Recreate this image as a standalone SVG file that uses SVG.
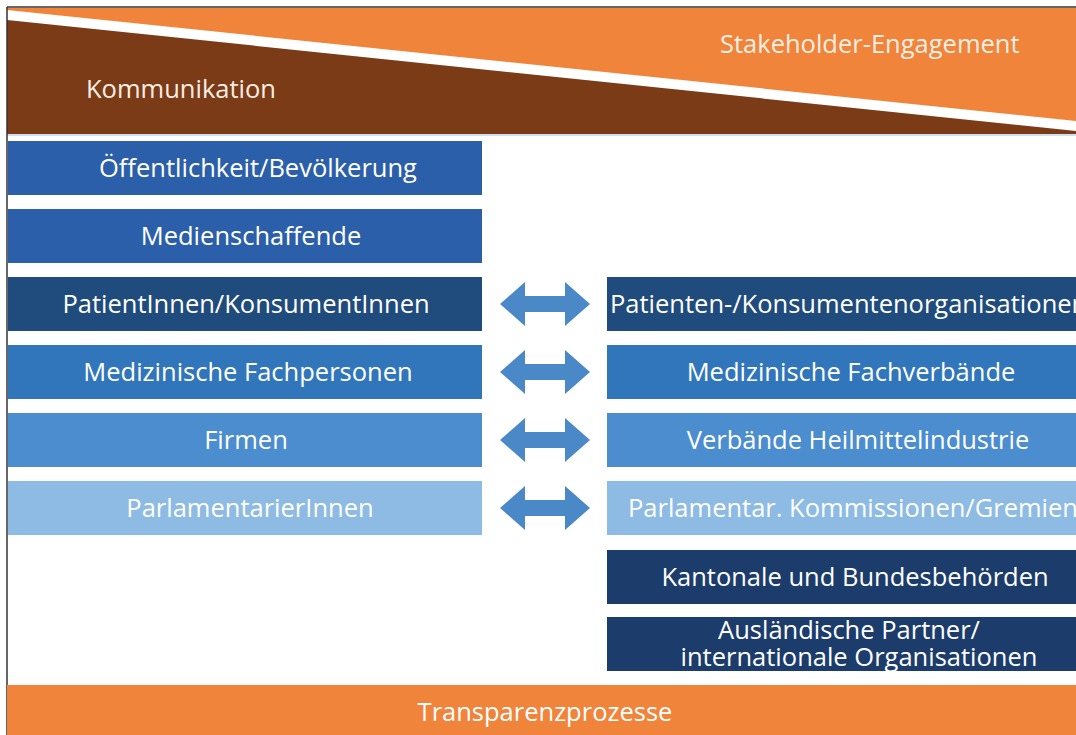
<svg xmlns="http://www.w3.org/2000/svg" width="1076" height="735" viewBox="0 0 1076 735">
<defs>
<style>
.t{font-family:"Open Sans","Noto Sans","Liberation Sans",sans-serif;font-size:25.5px;fill:#ffffff;text-anchor:middle;}
.h{font-family:"Open Sans","Noto Sans","Liberation Sans",sans-serif;font-size:25.5px;fill:#fbeee4;}
.c1{fill:#2c5fa9;}
.c2{fill:#1f4b7d;}
.c3{fill:#3176bb;}
.c4{fill:#4b8dcf;}
.c5{fill:#8dbbe3;}
.c6{fill:#1c3c6c;}
.arr{fill:#4a88c8;}
</style>
</defs>
<rect x="0" y="0" width="1076" height="735" fill="#ffffff"/>
<g id="header">
<rect x="7" y="8" width="1069" height="126" fill="#f0843a"/>
<polygon points="7,10 1076,121 1076,134 7,134" fill="#ffffff"/>
<polygon points="7,20 1076,131 1076,134 7,134" fill="#7b3b16"/>
<line x1="7" y1="135" x2="1076" y2="135" stroke="#cfe0f0" stroke-width="2"/>
<text class="h" x="86" y="98">Kommunikation</text>
<text class="h" x="720" y="53">Stakeholder-Engagement</text>
</g>
<line x1="7" y1="7" x2="1076" y2="7" stroke="#333333" stroke-width="1.5"/>
<line x1="7" y1="7" x2="7" y2="735" stroke="#333333" stroke-width="1.5"/>
<g id="oeffentlichkeit"><rect class="c1" x="8" y="141" width="474" height="54"/><text class="t" x="258" y="177">Öffentlichkeit/Bevölkerung</text></g>
<g id="medienschaffende"><rect class="c1" x="8" y="209" width="474" height="54"/><text class="t" x="251" y="245">Medienschaffende</text></g>
<g id="patientinnen"><rect class="c2" x="8" y="277" width="474" height="54"/><text class="t" x="246" y="313">PatientInnen/KonsumentInnen</text></g>
<g id="fachpersonen"><rect class="c3" x="8" y="345" width="474" height="54"/><text class="t" x="248" y="381">Medizinische Fachpersonen</text></g>
<g id="firmen"><rect class="c4" x="8" y="413" width="474" height="54"/><text class="t" x="246" y="449">Firmen</text></g>
<g id="parlamentarier"><rect class="c5" x="8" y="481" width="474" height="54"/><text class="t" x="250" y="517">ParlamentarierInnen</text></g>
<g id="konsumentenorg"><rect class="c2" x="607" y="277" width="469" height="54"/><text class="t" x="610" y="313" style="text-anchor:start">Patienten-/Konsumentenorganisationen</text></g>
<g id="fachverbaende"><rect class="c3" x="607" y="345" width="469" height="54"/><text class="t" x="851" y="381">Medizinische Fachverbände</text></g>
<g id="heilmittel"><rect class="c4" x="607" y="413" width="469" height="54"/><text class="t" x="858" y="449">Verbände Heilmittelindustrie</text></g>
<g id="kommissionen"><rect class="c5" x="607" y="481" width="469" height="54"/><text class="t" x="853" y="517">Parlamentar. Kommissionen/Gremien</text></g>
<g id="behoerden"><rect class="c6" x="607" y="550" width="469" height="54"/><text class="t" x="855" y="586">Kantonale und Bundesbehörden</text></g>
<g id="ausland"><rect class="c6" x="607" y="617" width="469" height="54"/><text class="t" x="849" y="639">Ausländische Partner/</text><text class="t" x="859" y="666">internationale Organisationen</text></g>
<g id="connectors">
<polygon class="arr" points="500,304 525,282 525,296 565,296 565,282 590,304 565,326 565,312 525,312 525,326"/>
<polygon class="arr" points="500,372 525,350 525,364 565,364 565,350 590,372 565,394 565,380 525,380 525,394"/>
<polygon class="arr" points="500,440 525,418 525,432 565,432 565,418 590,440 565,462 565,448 525,448 525,462"/>
<polygon class="arr" points="500,508 525,486 525,500 565,500 565,486 590,508 565,530 565,516 525,516 525,530"/>
</g>
<g id="transparenz"><rect x="7" y="685" width="1069" height="50" fill="#f0843a"/><text class="t" x="545" y="721">Transparenzprozesse</text></g>
</svg>
